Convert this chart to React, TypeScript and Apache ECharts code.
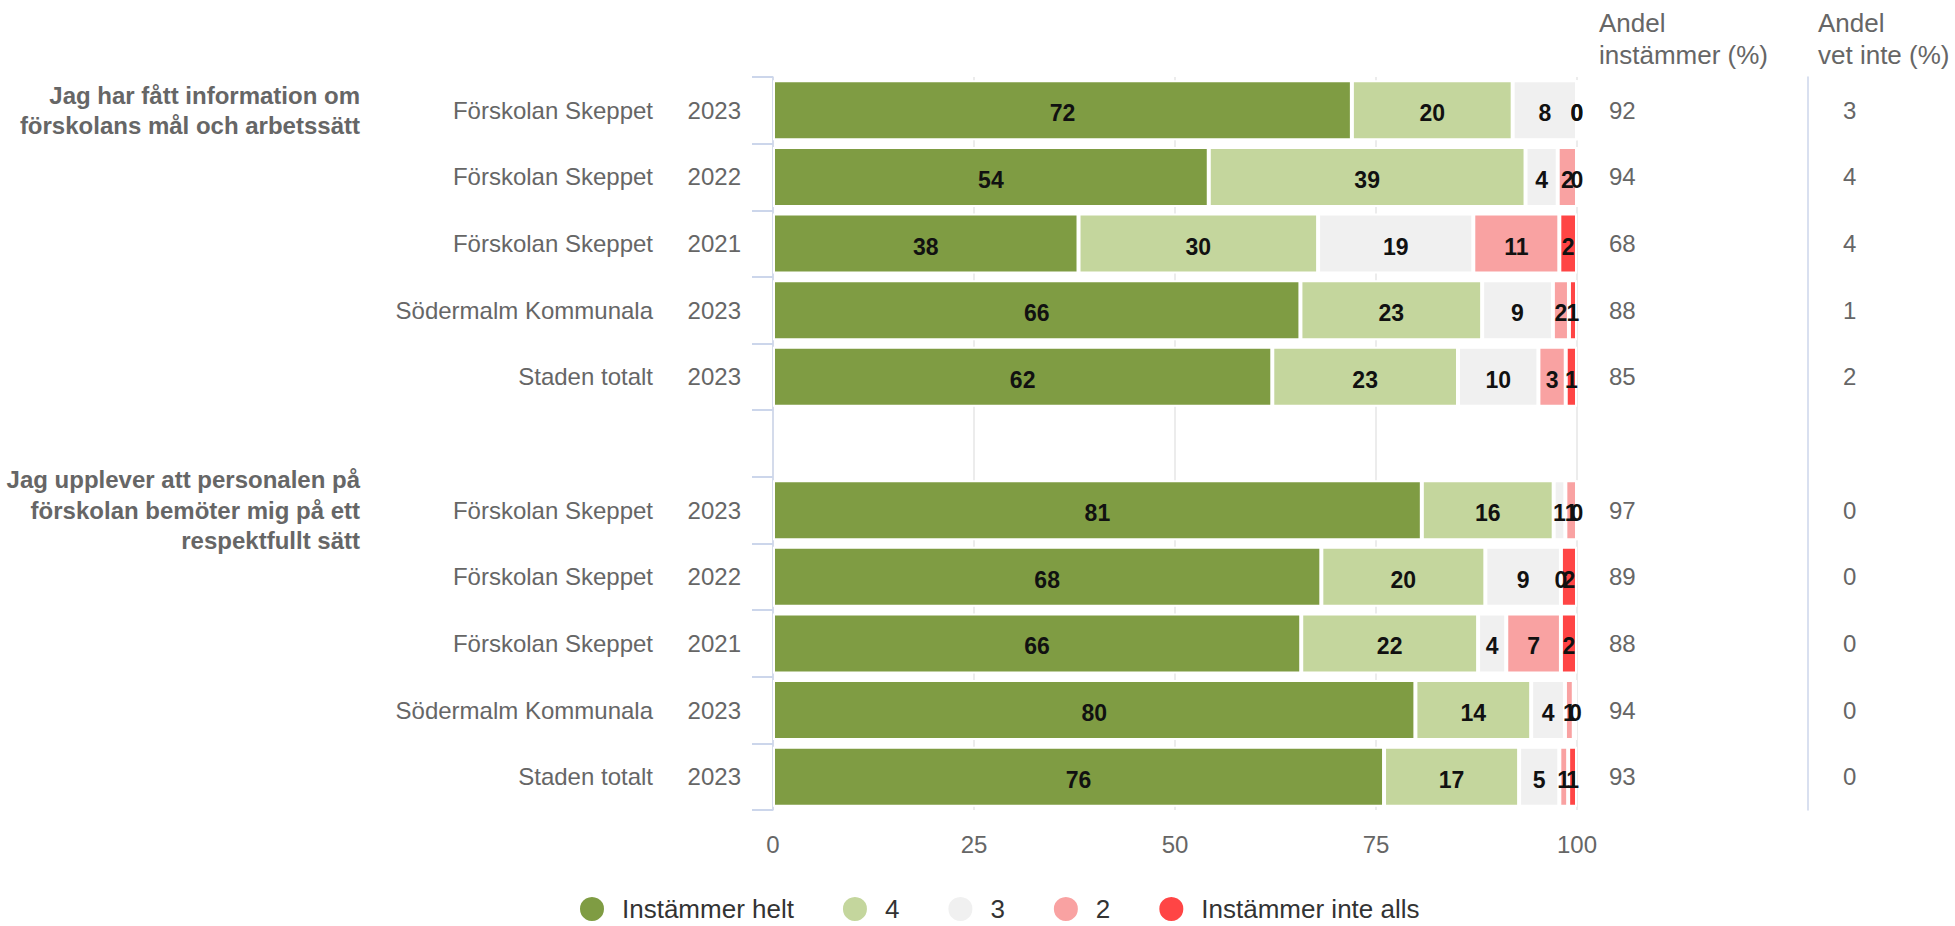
import React, { useEffect, useRef } from "react";
import * as echarts from "echarts";

// ---- data ----
const rowKeys = ["r0", "r1", "r2", "r3", "r4", "r5", "r6", "r7", "r8", "r9", "r10"];
const questions = [
  "Jag har fått information om\nförskolans mål och arbetssätt",
  "", "", "", "", "",
  "Jag upplever att personalen på\nförskolan bemöter mig på ett\nrespektfullt sätt",
  "", "", "", "",
];
const units = [
  "Förskolan Skeppet", "Förskolan Skeppet", "Förskolan Skeppet", "Södermalm Kommunala", "Staden totalt",
  "",
  "Förskolan Skeppet", "Förskolan Skeppet", "Förskolan Skeppet", "Södermalm Kommunala", "Staden totalt",
];
const years = ["2023", "2022", "2021", "2023", "2023", "", "2023", "2022", "2021", "2023", "2023"];

const seriesNames = ["Instämmer helt", "4", "3", "2", "Instämmer inte alls"];
const helt = [72.0, 54.2, 38.0, 65.6, 62.1, "-", 80.7, 68.2, 65.7, 79.9, 76.0];
const fyra = [20.0, 39.4, 29.8, 22.6, 23.1, "-", 16.4, 20.4, 22.0, 14.4, 16.8];
const tre = [8.0, 4.0, 19.3, 8.8, 10.0, "-", 1.45, 9.4, 3.5, 4.2, 5.0];
const tva = [0, 2.4, 10.7, 2.0, 3.4, "-", 1.45, 0, 6.8, 1.1, 1.1];
const inte = [0, 0, 2.2, 1.0, 1.4, "-", 0, 2.0, 2.0, 0.4, 1.1];

const andelInstammer = ["92", "94", "68", "88", "85", "", "97", "89", "88", "94", "93"];
const andelVetInte = ["3", "4", "4", "1", "2", "", "0", "0", "0", "0", "0"];

const xTicks = [0, 25, 50, 75, 100];

const colors = ["#7f9c43", "#c4d69d", "#f0f0f0", "#f9a2a2", "#ff4545"];

const FONT = "'Liberation Sans', Arial, Helvetica, sans-serif";

export default function App() {
  const ref = useRef<HTMLDivElement>(null);

  useEffect(() => {
    document.body.style.margin = "0";
    const chart = echarts.init(ref.current!, null, { renderer: "svg" });
    const values = [helt, fyra, tre, tva, inte];

    const baseY = {
      type: "category",
      data: rowKeys,
      inverse: true,
      axisLine: { show: false, onZero: false },
      axisTick: { show: false },
      splitLine: { show: false },
    };

    const labelBase = {
      interval: 0,
      color: "#666666",
      fontSize: 24,
      fontFamily: FONT,
      padding: [6, 0, 0, 0],
    };

    const option: any = {
      animation: false,
      textStyle: { fontFamily: FONT },
      grid: {
        left: 773,
        top: 77,
        width: 804,
        height: 733,
        outerBoundsMode: "none",
        containLabel: false,
      },
      legend: {
        data: seriesNames,
        left: 573,
        top: 890,
        icon: "circle",
        itemWidth: 50,
        itemHeight: 26,
        itemGap: 47,
        textStyle: { fontSize: 26, color: "#333333", fontFamily: FONT },
      },
      xAxis: {
        type: "value",
        min: xTicks[0],
        max: xTicks[xTicks.length - 1],
        interval: 25,
        axisLine: { show: false },
        axisTick: { show: false },
        axisLabel: {
          color: "#666666",
          fontSize: 24,
          margin: 22,
          fontFamily: FONT,
        },
        splitLine: { show: true, lineStyle: { color: "#e6e6e6", width: 1.5 } },
      },
      yAxis: [
        {
          ...baseY,
          position: "left",
          axisLine: { show: true, onZero: false, lineStyle: { color: "#ccd6eb", width: 1.5 } },
          axisTick: { show: true, length: 21, lineStyle: { color: "#ccd6eb", width: 2 } },
          axisLabel: {
            ...labelBase,
            margin: 32,
            formatter: (_v: string, i: number) => years[i],
          },
        },
        {
          ...baseY,
          position: "left",
          axisLabel: {
            ...labelBase,
            margin: 120,
            formatter: (_v: string, i: number) => units[i],
          },
        },
        {
          ...baseY,
          position: "left",
          axisLabel: {
            ...labelBase,
            margin: 413,
            fontWeight: "bold",
            lineHeight: 30.5,
            align: "right",
            formatter: (_v: string, i: number) => questions[i],
          },
        },
        {
          ...baseY,
          position: "right",
          axisLabel: {
            ...labelBase,
            margin: 32,
            align: "left",
            formatter: (_v: string, i: number) => andelInstammer[i],
          },
        },
        {
          ...baseY,
          position: "right",
          offset: 231,
          axisLine: { show: true, onZero: false, lineStyle: { color: "#ccd6eb", width: 1.5 } },
          axisLabel: {
            ...labelBase,
            margin: 35,
            align: "left",
            formatter: (_v: string, i: number) => andelVetInte[i],
          },
        },
      ],
      series: seriesNames.map((name, si) => ({
        name,
        type: "bar",
        stack: "total",
        yAxisIndex: 0,
        barWidth: 60,
        data: values[si],
        itemStyle: { color: colors[si], borderColor: "#ffffff", borderWidth: 2 },
        label: {
          show: true,
          position: "inside",
          offset: [0, 3],
          color: "#111111",
          fontSize: 23,
          fontWeight: "bold",
          fontFamily: FONT,
          formatter: (p: any) => String(Math.round(p.value)),
        },
      })),
      graphic: [
        {
          type: "text",
          left: 1599,
          top: 7,
          style: {
            text: "Andel\ninstämmer (%)",
            fill: "#666666",
            fontSize: 26,
            lineHeight: 32,
            fontFamily: FONT,
          },
        },
        {
          type: "text",
          left: 1818,
          top: 7,
          style: {
            text: "Andel\nvet inte (%)",
            fill: "#666666",
            fontSize: 26,
            lineHeight: 32,
            fontFamily: FONT,
          },
        },
      ],
    };

    chart.setOption(option);
    return () => chart.dispose();
  }, []);

  return <div ref={ref} style={{ width: 1955, height: 926 }} />;
}
